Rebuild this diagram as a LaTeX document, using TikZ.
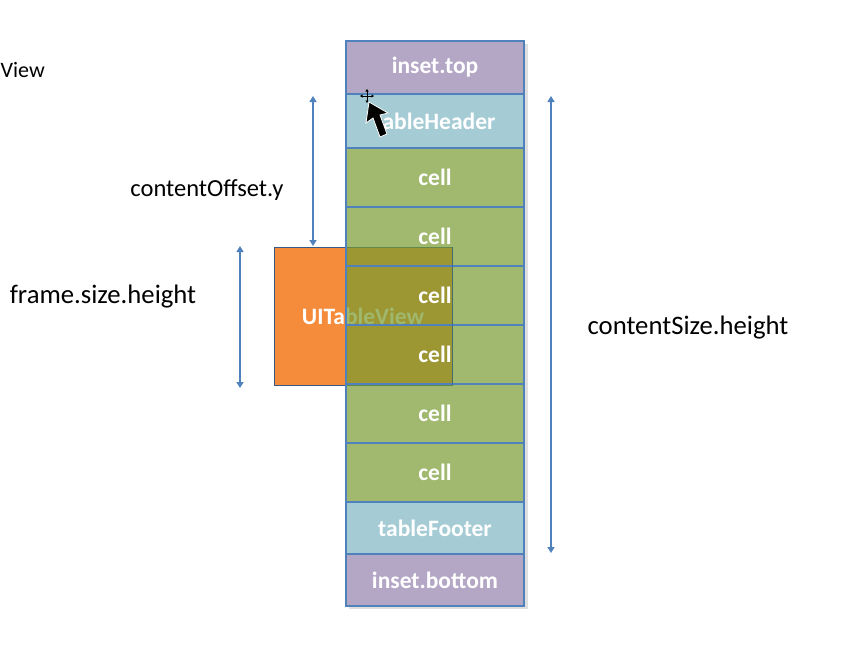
\documentclass[tikz,border=0pt]{standalone}
\usepackage{fontspec}
\setmainfont{Carlito}
\usetikzlibrary{arrows.meta}
\definecolor{insetc}{RGB}{148,129,174}
\definecolor{headc}{RGB}{127,181,194}
\definecolor{cellc}{RGB}{119,155,48}
\definecolor{bordc}{RGB}{79,129,189}
\definecolor{orangec}{RGB}{245,140,60}
\begin{document}
\begin{tikzpicture}[x=1pt,y=-1pt,
  blk/.style={draw=bordc, line width=1.2pt, minimum width=178pt, inner sep=0pt,
    fill opacity=0.7, text opacity=1, text=white, font=\fontsize{23.5}{25}\selectfont\bfseries},
  lbl/.style={text=black, inner sep=0pt},
  dim/.style={draw=bordc, line width=2.2pt, {Triangle[width=7pt,length=6pt]}-{Triangle[width=7pt,length=6pt]}}
]
\useasboundingbox (0,0) rectangle (868,648);
% shadow of column
\fill[gray!25] (524,44) rectangle (528,609);
\fill[gray!25] (349,606) rectangle (528,609);
% orange frame (behind the column)
\node[draw=bordc!70!black, line width=0.6pt, fill=orangec, minimum width=178pt, minimum height=138pt,
  inner sep=0pt, text=white, font=\fontsize{23.5}{25}\selectfont\bfseries] (tv) at (363,316) {UITableView};
% column
\node[blk, fill=insetc, minimum height=53pt] (itop) at (435,67.5) {inset.top};
\node[blk, fill=headc, minimum height=54pt] (hdr) at (435,121) {tableHeader};
\node[blk, fill=cellc, minimum height=59pt] (c1) at (435,177.5) {cell};
\node[blk, fill=cellc, minimum height=59pt] (c2) at (435,236.5) {cell};
\node[blk, fill=cellc, minimum height=59pt] (c3) at (435,295.5) {cell};
\node[blk, fill=cellc, minimum height=59pt] (c4) at (435,354.5) {cell};
\node[blk, fill=cellc, minimum height=59pt] (c5) at (435,413.5) {cell};
\node[blk, fill=cellc, minimum height=59pt] (c6) at (435,472.5) {cell};
\node[blk, fill=headc, minimum height=52pt] (ftr) at (435,528) {tableFooter};
\node[blk, fill=insetc, minimum height=52pt] (ibot) at (435,580) {inset.bottom};
% right edge of the frame seen through the column
\draw[bordc!70!black, line width=0.6pt, opacity=0.6] (tv.north east) -- (tv.south east);
% dimension arrows
\coordinate (o1) at (313,96);  \coordinate (o2) at (313,246);
\coordinate (f1) at (240,246); \coordinate (f2) at (240,388);
\coordinate (s1) at (551,96);  \coordinate (s2) at (551,553);
\draw[dim] (o1) -- (o2);
\draw[dim] (f1) -- (f2);
\draw[dim] (s1) -- (s2);
% labels
\node[lbl, font=\fontsize{24.5}{26}\selectfont] (lo) at (207,190) {contentOffset.y};
\node[lbl, font=\fontsize{26.7}{28}\selectfont] (lf) at (103,297) {frame.size.height};
\node[lbl, font=\fontsize{26.7}{28}\selectfont] (ls) at (688,328) {contentSize.height};
\node[lbl, font=\fontsize{22}{24}\selectfont, anchor=west] (lv) at (0.5,70) {View};
% mouse cursor
\filldraw[fill=black, draw=white, line width=0.8pt]
  (369,102) -- (366,123) -- (373,118) -- (380,137) -- (387,134) -- (380,115) -- (388,113) -- cycle;
\begin{scope}[shift={(367,96)}, line width=0.9pt, black, -{Triangle[width=3pt,length=2.5pt]}]
  \draw (0,0) -- (0,-7); \draw (0,0) -- (0,7);
  \draw (0,0) -- (-7,0); \draw (0,0) -- (7,0);
\end{scope}
\end{tikzpicture}
\end{document}
